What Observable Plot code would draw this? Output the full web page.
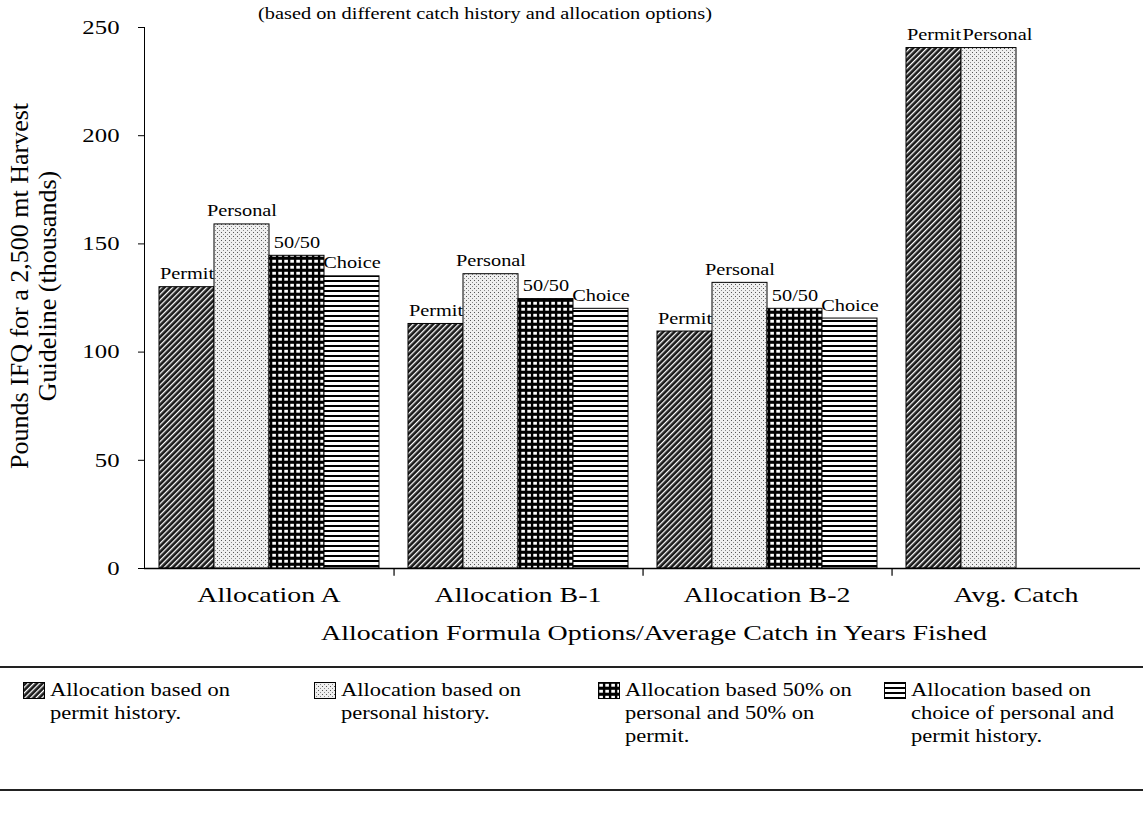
<!DOCTYPE html>
<html>
<head>
<meta charset="utf-8">
<script src="https://cdn.jsdelivr.net/npm/d3@7"></script>
<script src="https://cdn.jsdelivr.net/npm/@observablehq/plot@0.6"></script>
<style>
  html, body { margin: 0; padding: 0; background: #fff; }
  #page { position: relative; width: 1143px; height: 816px; background: #fff; overflow: hidden;
          font-family: "Liberation Serif", "Times New Roman", serif; color: #000; }
  #chart { position: absolute; left: 0; top: 0; }
  .stretch { display: inline-block; white-space: nowrap; transform-origin: left center; }
  #subtitle { position: absolute; top: 4px; left: 485px; font-size: 16px; line-height: 20px; }
  #xtitle { position: absolute; top: 620px; left: 654px; font-size: 22px; line-height: 26px; }
  #ytitle { position: absolute; left: 34px; top: 286px; font-size: 26px; line-height: 28px;
            transform: translate(-50%, -50%) rotate(-90deg); text-align: center; white-space: nowrap; }
  .rule { position: absolute; left: 0; width: 1143px; height: 2px; background: #222; }
  .entry { position: absolute; top: 679px; }
  .entry svg { position: absolute; left: -27px; top: 3px; }
  .entry .line { font-size: 18px; line-height: 23px; display: block; white-space: nowrap;
                 transform: scaleX(1.25); transform-origin: left center; }
  [aria-label^="fx-axis"] text { font-size: 22px; }
</style>
</head>
<body>
<svg width="0" height="0" style="position:absolute">
  <defs>
    <pattern id="pat-permit" width="4" height="4" patternUnits="userSpaceOnUse" patternTransform="rotate(45)">
      <rect width="4" height="4" fill="#1a1a1a"/>
      <rect x="0" y="0" width="1.3" height="4" fill="#ffffff"/>
    </pattern>
    <pattern id="pat-personal" width="4" height="4" patternUnits="userSpaceOnUse">
      <rect width="4" height="4" fill="#efefef"/>
      <rect x="0" y="0" width="1" height="1" fill="#555"/>
      <rect x="2" y="2" width="1" height="1" fill="#888"/>
    </pattern>
    <pattern id="pat-fifty" width="6" height="6" patternUnits="userSpaceOnUse">
      <rect width="6" height="6" fill="#000"/>
      <rect x="1.3" y="1.8" width="3.6" height="2.9" fill="#fff"/>
    </pattern>
    <pattern id="pat-choice" width="5" height="5" patternUnits="userSpaceOnUse">
      <rect width="5" height="5" fill="#fff"/>
      <rect x="0" y="0" width="5" height="2" fill="#000"/>
    </pattern>
  </defs>
</svg>
<div id="page">
  <div id="chart"></div>
  <div id="subtitle"></div>
  <div id="ytitle"></div>
  <div id="xtitle"></div>
  <div class="rule" style="top:666px"></div>
  <div id="legend"></div>
  <div class="rule" style="top:789px"></div>
</div>
<script>
// ---- data ----
const categories = ["Allocation A", "Allocation B-1", "Allocation B-2", "Avg. Catch"];
const series = ["Permit", "Personal", "50/50", "Choice"];
const permitValues   = [130, 113, 109.5, 240.5];
const personalValues = [159, 136, 132, 240.5];
const fiftyValues    = [144.5, 124.5, 120, null];
const choiceValues   = [135, 120, 115.5, null];
const yTicks = [0, 50, 100, 150, 200, 250];
const subtitleText = "(based on different catch history and allocation options)";
const xTitleText = "Allocation Formula Options/Average Catch in Years Fished";
const yTitleLines = ["Pounds IFQ for a 2,500 mt Harvest", "Guideline (thousands)"];
const legendLines = [
  ["Allocation based on", "permit history."],
  ["Allocation based on", "personal history."],
  ["Allocation based 50% on", "personal and 50% on", "permit."],
  ["Allocation based on", "choice of personal and", "permit history."]
];
const patternIds = ["pat-permit", "pat-personal", "pat-fifty", "pat-choice"];

// ---- build table ----
const valueLists = [permitValues, personalValues, fiftyValues, choiceValues];
const rows = [];
categories.forEach((c, i) => {
  series.forEach((s, j) => {
    const v = valueLists[j][i];
    if (v != null) rows.push({category: c, series: s, value: v});
  });
});
const lastCat = categories[categories.length - 1];
const isLastPersonal = d => d.category === lastCat && d.series === series[1];

// ---- layout ----
const W = 1143, H = 612, ML = 143, MR = 2, MT = 27, MB = 44;
const PO = 0.26;
const facetW = (W - ML - MR) / categories.length;
const step = facetW / (series.length + 2 * PO);
const sepDx = -(PO * step + step / 2);

const chart = Plot.plot({
  width: W, height: H,
  marginLeft: ML, marginRight: MR, marginTop: MT, marginBottom: MB,
  style: {fontFamily: "'Liberation Serif', 'Times New Roman', serif", fontSize: "19.5px", color: "#000", background: "transparent"},
  facet: {data: rows, x: "category"},
  fx: {domain: categories, padding: 0, label: null, axis: "bottom", tickPadding: 18},
  x: {domain: series, paddingInner: 0, paddingOuter: PO, axis: null},
  y: {domain: [0, 250], ticks: yTicks, tickFormat: d3.format("d"), label: null, tickSize: 6, tickPadding: 19, line: true},
  color: {domain: series, range: patternIds.map(id => `url(#${id})`)},
  marks: [
    Plot.barY(rows, {x: "series", y: "value", fill: "series", stroke: "#000", strokeWidth: 1}),
    Plot.text(rows, {filter: d => !isLastPersonal(d), x: "series", y: "value", text: "series",
                     lineAnchor: "bottom", dy: -8, fontSize: 16}),
    Plot.text(rows, {filter: isLastPersonal, x: "series", y: "value", text: "series",
                     textAnchor: "start", dx: -step / 2 + 1, lineAnchor: "bottom", dy: -8, fontSize: 16}),
    Plot.ruleY([0], {stroke: "#000", strokeWidth: 1.6}),
    Plot.ruleX(rows, {filter: d => d.series === series[0] && d.category !== categories[0],
                      x: () => series[0], y1: 0, y2: -3.6, dx: sepDx, stroke: "#000", strokeWidth: 1.2})
  ]
});
document.getElementById("chart").append(chart);

// horizontally stretched serif text, as in the scanned original
const K = 1.27;
chart.querySelectorAll("text").forEach(t => {
  const tspans = t.querySelectorAll("tspan");
  const targets = tspans.length ? Array.from(tspans) : [t];
  targets.forEach(el => {
    const w = el.getComputedTextLength();
    if (w > 0) { el.setAttribute("textLength", w * K); el.setAttribute("lengthAdjust", "spacingAndGlyphs"); }
  });
});

// ---- HTML texts ----
function stretched(text, k) {
  const s = document.createElement("span");
  s.className = "stretch";
  s.textContent = text;
  s.style.transform = `translateX(-50%) scaleX(${k})`;
  s.style.transformOrigin = "center center";
  return s;
}
document.getElementById("subtitle").append(stretched(subtitleText, K));
document.getElementById("xtitle").append(stretched(xTitleText, K));
document.getElementById("ytitle").innerHTML = yTitleLines.join("<br>");

const legendX = [50, 341, 625, 911];
const legend = document.getElementById("legend");
legendLines.forEach((lines, i) => {
  const e = document.createElement("div");
  e.className = "entry";
  e.style.left = legendX[i] + "px";
  e.innerHTML = `<svg width="22" height="17"><rect x="0.5" y="0.5" width="21" height="16" fill="url(#${patternIds[i]})" stroke="#000"/></svg>` +
    lines.map(l => `<span class="line">${l}</span>`).join("");
  legend.append(e);
});
</script>
</body>
</html>
